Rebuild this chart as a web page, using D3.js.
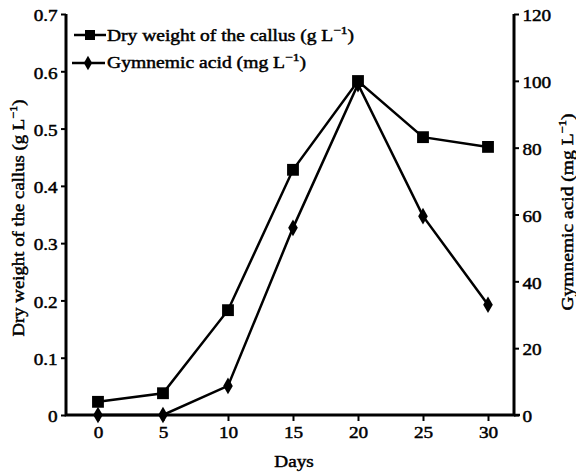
<!DOCTYPE html>
<html><head><meta charset="utf-8">
<script src="https://cdn.jsdelivr.net/npm/d3@7"></script>
<style>body{margin:0;background:#fff}svg{display:block}text{font-family:"Liberation Serif","Times New Roman",serif;font-weight:normal;fill:#000;stroke:#000;stroke-width:0.45px}</style>
</head><body><svg id="c" width="576" height="473"></svg>
<script>
const days = [0, 5, 10, 15, 20, 25, 30];
const dryWeight = [0.023, 0.038, 0.183, 0.428, 0.583, 0.485, 0.468];
const gymnemic = [0, 0, 8.7, 56, 99, 59.5, 33];
const xTicks = [0, 5, 10, 15, 20, 25, 30];
const leftTicks = [0, 0.1, 0.2, 0.3, 0.4, 0.5, 0.6, 0.7];
const rightTicks = [0, 20, 40, 60, 80, 100, 120];

const svg = d3.select("#c");
const L = 66, R = 514, T = 14, B = 415;
const SX = 1.2;
const x = d3.scaleLinear().domain([-2.46, 32]).range([L, R]);
const yL = d3.scaleLinear().domain([0, 0.7]).range([B, T]);
const yR = d3.scaleLinear().domain([0, 120]).range([B, T]);

function styleAxis(g){
  g.selectAll(".domain").remove();
  g.selectAll(".tick line").attr("stroke","#000").attr("stroke-width",2);
  g.selectAll(".tick text").style("font-size","16px").attr("transform",`scale(${SX},1)`);
}
const gx = svg.append("g").attr("transform",`translate(0,${B})`)
  .call(d3.axisBottom(x).tickValues(xTicks).tickSize(6).tickPadding(6).tickFormat(d3.format("d")));
styleAxis(gx);
const gl = svg.append("g").attr("transform",`translate(${L},0)`)
  .call(d3.axisLeft(yL).tickValues(leftTicks).tickSize(5).tickPadding(2).tickFormat(d=>d===0?"0":d3.format(".1f")(d)));
styleAxis(gl);
gl.selectAll(".tick text").attr("dy","0.42em");
const gr = svg.append("g").attr("transform",`translate(${R},0)`)
  .call(d3.axisRight(yR).tickValues(rightTicks).tickSize(5).tickPadding(2).tickFormat(d3.format("d")));
styleAxis(gr);
gr.selectAll(".tick text").attr("dy","0.42em");

svg.append("path").attr("d",`M${L},${T}V${B}H${R}V${T}`).attr("fill","none").attr("stroke","#000").attr("stroke-width",3);
svg.append("path").attr("d",`M${R},${B}H${R+6}`).attr("stroke","#000").attr("stroke-width",2.5);

const lineL = d3.line().x((d,i)=>x(days[i])).y(d=>yL(d));
const lineR = d3.line().x((d,i)=>x(days[i])).y(d=>yR(d));
svg.append("path").datum(gymnemic).attr("d",lineR).attr("fill","none").attr("stroke","#000").attr("stroke-width",2.5);
svg.append("path").datum(dryWeight).attr("d",lineL).attr("fill","none").attr("stroke","#000").attr("stroke-width",2.5);
const sq = d3.symbol().type(d3.symbolSquare).size(140);
const dm = d3.symbol().type(d3.symbolDiamond).size(80);
svg.selectAll(".sq").data(dryWeight).enter().append("path")
  .attr("d",sq).attr("transform",(d,i)=>`translate(${x(days[i])},${yL(d)})`).attr("fill","#000");
svg.selectAll(".dm").data(gymnemic).enter().append("path")
  .attr("d",dm).attr("transform",(d,i)=>`translate(${x(days[i])},${yR(d)})`).attr("fill","#000");

function supText(g, parts, attrs){
  const t = g.append("text");
  Object.entries(attrs).forEach(([k,v])=>t.attr(k,v));
  t.append("tspan").text(parts[0]);
  t.append("tspan").attr("dy",-7).style("font-size","11px").text("\u22121");
  t.append("tspan").attr("dy",7).text(parts[1]);
  return t;
}
const leg = svg.append("g");
leg.append("line").attr("x1",74).attr("x2",106).attr("y1",35).attr("y2",35).attr("stroke","#000").attr("stroke-width",2.5);
leg.append("path").attr("d",d3.symbol().type(d3.symbolSquare).size(100)).attr("transform","translate(90,35)");
leg.append("line").attr("x1",72).attr("x2",105).attr("y1",63).attr("y2",63).attr("stroke","#000").attr("stroke-width",2.5);
leg.append("path").attr("d",d3.symbol().type(d3.symbolDiamond).size(60)).attr("transform","translate(88,63)");
supText(leg,["Dry weight of the callus (g L",")"],{x:107,y:41,"font-size":"16px",textLength:247,lengthAdjust:"spacingAndGlyphs"});
supText(leg,["Gymnemic acid (mg L",")"],{x:107,y:68,"font-size":"16px",textLength:199,lengthAdjust:"spacingAndGlyphs"});

supText(svg,["Dry weight of the callus (g L",")"],{transform:"translate(24,218) rotate(-90)","text-anchor":"middle","font-size":"17px",textLength:237,lengthAdjust:"spacingAndGlyphs"});
supText(svg,["Gymnemic acid (mg L",")"],{transform:"translate(573,212) rotate(-90)","text-anchor":"middle","font-size":"17px",textLength:197,lengthAdjust:"spacingAndGlyphs"});
svg.append("text").attr("transform","translate(294,467) scale(1.2,1)").attr("text-anchor","middle").style("font-size","16px").text("Days");
</script></body></html>
